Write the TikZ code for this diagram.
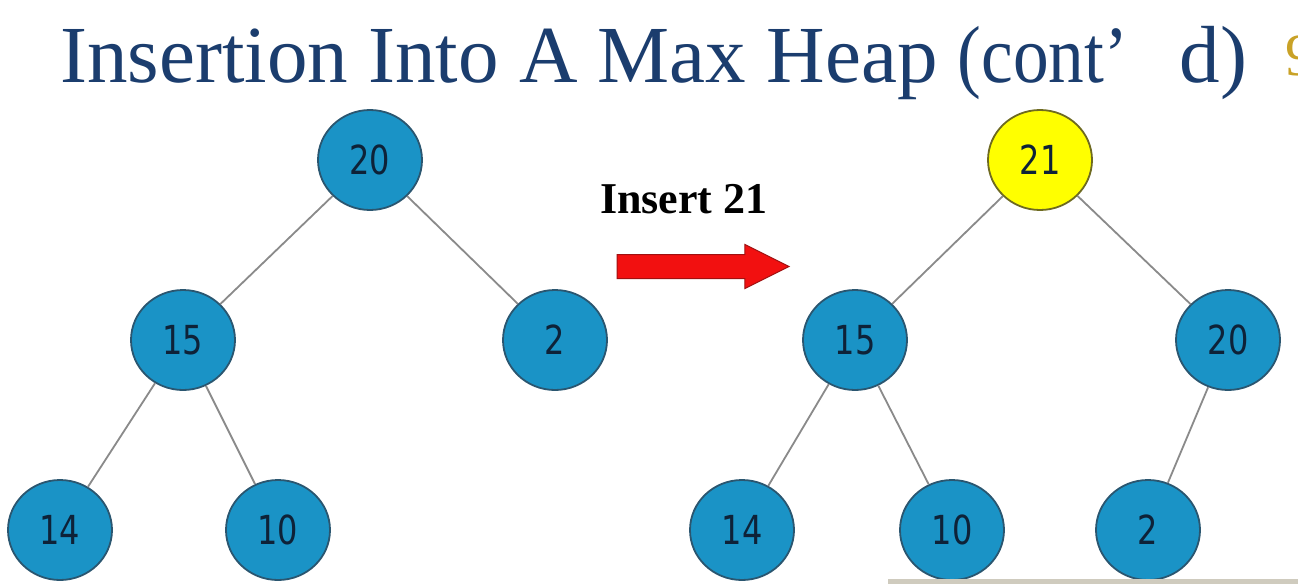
\documentclass[tikz,border=0pt]{standalone}
\usepackage{fontspec}
\setmainfont{Liberation Serif}
\newfontfamily\keyfont{DejaVu Sans}
\usetikzlibrary{shapes.geometric,shapes.arrows}

\definecolor{titleblue}{HTML}{1B3D6E}
\definecolor{keyfill}{HTML}{1A93C6}
\definecolor{keyedge}{HTML}{2A5670}
\definecolor{keytext}{HTML}{0E2238}
\definecolor{newfill}{HTML}{FFFF00}
\definecolor{newedge}{HTML}{6E6A20}
\definecolor{linkgray}{HTML}{8A8A8A}
\definecolor{arrowred}{HTML}{F21010}
\definecolor{arrowrim}{HTML}{A01010}
\definecolor{pagegold}{HTML}{C9A227}
\definecolor{barbeige}{HTML}{CFCBBE}

\tikzset{
  key/.style={ellipse, draw=keyedge, line width=1.8pt, fill=keyfill,
    minimum width=104pt, minimum height=100pt, inner sep=0pt,
    text=keytext, font=\keyfont\fontsize{40}{44}\selectfont},
  newkey/.style={key, fill=newfill, draw=newedge},
  link/.style={draw=linkgray, line width=1.8pt},
}
\newcommand{\kv}[1]{\scalebox{0.8}[1]{#1}}

\begin{document}
\begin{tikzpicture}[x=1pt,y=-1pt]
  \useasboundingbox (0,0) rectangle (1298,584);
  \fill[white] (0,0) rectangle (1298,584);

  % heading
  \node[anchor=base west, inner sep=0pt, text=titleblue,
        font=\fontsize{81}{86}\selectfont] (title) at (60,82)
        {Insertion Into A Max Heap \scalebox{0.88}[1]{(cont’}\hspace{52pt}d)};
  \node[anchor=base west, inner sep=0pt, text=pagegold,
        font=\fontsize{60}{64}\selectfont] (page) at (1285,75) {9};

  % heap before the insertion
  \node[key] (a20) at (370,160) {\kv{20}};
  \node[key] (a15) at (183,340) {\kv{15}};
  \node[key] (a2)  at (555,340) {\kv{2}};
  \node[key] (a14) at (60,530)  {\kv{14}};
  \node[key] (a10) at (278,530) {\kv{10}};
  \draw[link] (a20) -- (a15);
  \draw[link] (a20) -- (a2);
  \draw[link] (a15) -- (a14);
  \draw[link] (a15) -- (a10);

  % the insertion step
  \node[anchor=base west, inner sep=0pt,
        font=\bfseries\fontsize{44}{48}\selectfont] (step) at (600,213) {Insert 21};
  \node[single arrow, draw=arrowrim, fill=arrowred, line width=1pt,
        minimum height=172pt, inner xsep=0pt, inner ysep=11.5pt,
        single arrow head extend=10pt, single arrow tip angle=53]
        (go) at (691,266.5) {};

  % heap after the insertion
  \node[newkey] (b21) at (1040,160) {\kv{21}};
  \node[key] (b15) at (855,340)  {\kv{15}};
  \node[key] (b20) at (1228,340) {\kv{20}};
  \node[key] (b14) at (742,530)  {\kv{14}};
  \node[key] (b10) at (952,530)  {\kv{10}};
  \node[key] (b2)  at (1148,530) {\kv{2}};
  \draw[link] (b21) -- (b15);
  \draw[link] (b21) -- (b20);
  \draw[link] (b15) -- (b14);
  \draw[link] (b15) -- (b10);
  \draw[link] (b20) -- (b2);

  % strip along the lower edge
  \fill[barbeige] (888,579) rectangle (1298,584);
\end{tikzpicture}
\end{document}
